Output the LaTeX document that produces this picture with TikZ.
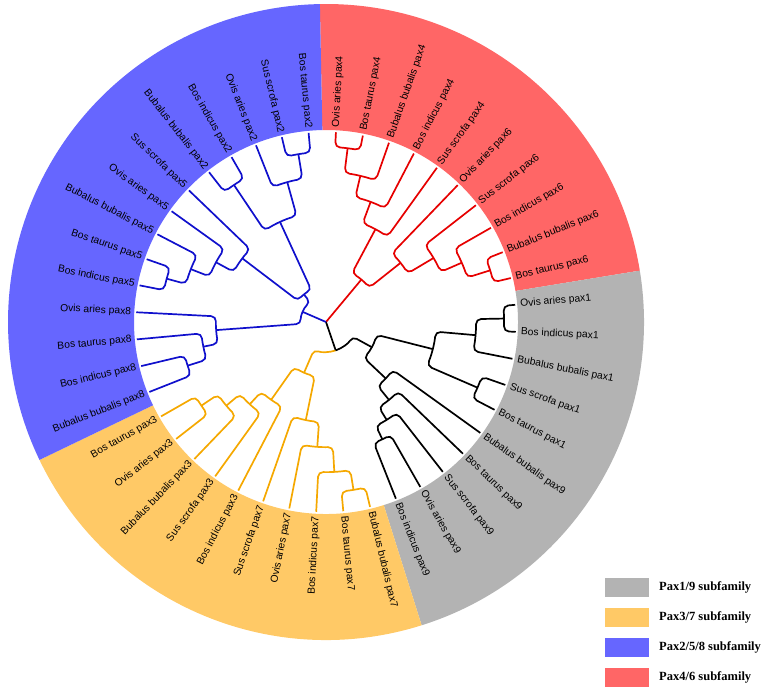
\documentclass[tikz,border=0pt]{standalone}
\usepackage{fontspec}
\setmainfont{Liberation Serif}
\newfontfamily\lblfont{Liberation Sans}
\definecolor{ringred}{HTML}{FF6666}
\definecolor{ringgray}{HTML}{B3B3B3}
\definecolor{ringyel}{HTML}{FFC966}
\definecolor{ringblue}{HTML}{6666FF}
\definecolor{trred}{HTML}{E60000}
\definecolor{trblue}{HTML}{1010CC}
\definecolor{tryel}{HTML}{F5A800}
\newcommand{\lf}[1]{\fpeval{87-8.18*(#1)}}
% \clade{color}{r}{a1}{r1}{a2}{r2}
\newcommand{\clade}[6]{\draw[#1,br] (#3:#4pt) -- (#3:#2pt) arc[start angle=#3,end angle=#5,radius=#2pt] -- (#5:#6pt);}
\newcommand{\sector}[3]{\fill[#1] (#2:192pt) arc[start angle=#2,end angle=#3,radius=192pt] -- (#3:318pt) arc[start angle=#3,end angle=#2,radius=318pt] -- cycle;}
\newcommand{\leaflabel}[2]{%
  \pgfmathsetmacro\aa{\lf{#1}}%
  \pgfmathparse{(\aa>-90)&&(\aa<90)?1:0}%
  \ifnum\pgfmathresult=1
    \node[lbl,anchor=west,rotate=\aa] (L#1) at (\aa:194pt) {#2};
  \else
    \node[lbl,anchor=east,rotate=\aa+180] (L#1) at (\aa:194pt) {#2};
  \fi}
\tikzset{br/.style={line width=1.7pt,rounded corners=5pt},
  lbl/.style={font=\lblfont\fontsize{10.3}{12}\selectfont,inner sep=1pt},
  legtxt/.style={font=\bfseries\fontsize{12.5}{14}\selectfont,anchor=west,inner sep=0pt}}
\begin{document}
\begin{tikzpicture}[x=1pt,y=1pt]
\useasboundingbox (0,0) rectangle (767,-691);
\begin{scope}[shift={(326,-322)}]
\sector{ringred}{91.1}{9.3}
\sector{ringgray}{9.3}{-72.5}
\sector{ringyel}{-72.5}{-154.3}
\sector{ringblue}{-154.3}{-268.9}
% ---------- red
\clade{trred}{175}{\lf{0}}{190}{\lf{1}}{190}
\clade{trred}{150}{82.91}{175}{\lf{2}}{190}
\clade{trred}{128}{76.78}{150}{\lf{3}}{190}
\clade{trred}{105}{69.62}{128}{\lf{4}}{190}
\clade{trred}{172}{\lf{8}}{190}{\lf{9}}{190}
\clade{trred}{148}{\lf{7}}{190}{17.47}{172}
\clade{trred}{125}{\lf{6}}{190}{23.6}{148}
\clade{trred}{95}{\lf{5}}{190}{30.76}{125}
\clade{trred}{55}{61.95}{105}{38.43}{95}
\draw[trred,line width=1.7pt] (0,0) -- (50.19:55pt);
% ---------- black
\clade{black}{178}{\lf{10}}{190}{\lf{11}}{190}
\clade{black}{150}{1.11}{178}{\lf{12}}{190}
\clade{black}{165}{\lf{13}}{190}{\lf{14}}{190}
\clade{black}{110}{-5.03}{150}{-23.43}{165}
\clade{black}{130}{\lf{18}}{190}{\lf{19}}{190}
\clade{black}{115}{\lf{17}}{190}{-64.33}{130}
\clade{black}{100}{\lf{16}}{190}{-58.2}{115}
\clade{black}{82}{\lf{15}}{190}{-51.04}{100}
\clade{black}{52}{-14.23}{110}{-43.37}{82}
% ---------- yellow
\clade{tryel}{170}{\lf{20}}{190}{\lf{21}}{190}
\clade{tryel}{150}{\lf{22}}{190}{-80.69}{170}
\clade{tryel}{125}{\lf{23}}{190}{-86.83}{150}
\clade{tryel}{100}{\lf{24}}{190}{-93.99}{125}
\clade{tryel}{150}{\lf{28}}{190}{\lf{29}}{190}
\clade{tryel}{130}{\lf{27}}{190}{-146.13}{150}
\clade{tryel}{112}{\lf{26}}{190}{-140}{130}
\clade{tryel}{95}{\lf{25}}{190}{-132.84}{112}
\clade{tryel}{55}{-101.65}{100}{-125.17}{95}
\draw[black,br] (-28.8:52pt) -- (-28.8:30pt) arc[start angle=-28.8,end angle=-71.1,radius=30pt];
\draw[tryel,br] (-71.1:30pt) arc[start angle=-71.1,end angle=-113.4,radius=30pt] -- (-113.4:55pt);
\draw[black,line width=1.7pt] (0,0) -- (-71.1:30pt);
% ---------- blue
\clade{trblue}{170}{\lf{42}}{190}{\lf{43}}{190}
\clade{trblue}{145}{\lf{41}}{190}{-260.65}{170}
\clade{trblue}{165}{\lf{39}}{190}{\lf{40}}{190}
\clade{trblue}{110}{-236.11}{165}{-254.52}{145}
\clade{trblue}{165}{\lf{34}}{190}{\lf{35}}{190}
\clade{trblue}{145}{-195.21}{165}{\lf{36}}{190}
\clade{trblue}{125}{-201.35}{145}{\lf{37}}{190}
\clade{trblue}{105}{-208.5}{125}{\lf{38}}{190}
\clade{trblue}{35}{-217.26}{105}{-245.31}{110}
\clade{trblue}{145}{\lf{30}}{190}{\lf{31}}{190}
\clade{trblue}{125}{-162.49}{145}{\lf{32}}{190}
\clade{trblue}{110}{-168.63}{125}{\lf{33}}{190}
\clade{trblue}{25}{-175.78}{110}{-231.29}{35}
\draw[trblue,line width=1.7pt] (0,0) -- (-203.5:25pt);
% ---------- labels
\leaflabel{0}{Ovis aries pax4}
\leaflabel{1}{Bos taurus pax4}
\leaflabel{2}{Bubalus bubalis pax4}
\leaflabel{3}{Bos indicus pax4}
\leaflabel{4}{Sus scrofa pax4}
\leaflabel{5}{Ovis aries pax6}
\leaflabel{6}{Sus scrofa pax6}
\leaflabel{7}{Bos indicus pax6}
\leaflabel{8}{Bubalus bubalis pax6}
\leaflabel{9}{Bos taurus pax6}
\leaflabel{10}{Ovis aries pax1}
\leaflabel{11}{Bos indicus pax1}
\leaflabel{12}{Bubalus bubalis pax1}
\leaflabel{13}{Sus scrofa pax1}
\leaflabel{14}{Bos taurus pax1}
\leaflabel{15}{Bubalus bubalis pax9}
\leaflabel{16}{Bos taurus pax9}
\leaflabel{17}{Sus scrofa pax9}
\leaflabel{18}{Ovis aries pax9}
\leaflabel{19}{Bos indicus pax9}
\leaflabel{20}{Bubalus bubalis pax7}
\leaflabel{21}{Bos taurus pax7}
\leaflabel{22}{Bos indicus pax7}
\leaflabel{23}{Ovis aries pax7}
\leaflabel{24}{Sus scrofa pax7}
\leaflabel{25}{Bos indicus pax3}
\leaflabel{26}{Sus scrofa pax3}
\leaflabel{27}{Bubalus bubalis pax3}
\leaflabel{28}{Ovis aries pax3}
\leaflabel{29}{Bos taurus pax3}
\leaflabel{30}{Bubalus bubalis pax8}
\leaflabel{31}{Bos indicus pax8}
\leaflabel{32}{Bos taurus pax8}
\leaflabel{33}{Ovis aries pax8}
\leaflabel{34}{Bos indicus pax5}
\leaflabel{35}{Bos taurus pax5}
\leaflabel{36}{Bubalus bubalis pax5}
\leaflabel{37}{Ovis aries pax5}
\leaflabel{38}{Sus scrofa pax5}
\leaflabel{39}{Bubalus bubalis pax2}
\leaflabel{40}{Bos indicus pax2}
\leaflabel{41}{Ovis aries pax2}
\leaflabel{42}{Sus scrofa pax2}
\leaflabel{43}{Bos taurus pax2}
\end{scope}
% ---------- legend
\fill[ringgray] (605,-578) rectangle (649,-597);
\node[legtxt] (g1) at (659,-587.5) {Pax1/9 subfamily};
\fill[ringyel] (605,-608) rectangle (649,-627);
\node[legtxt] (g2) at (659,-617.5) {Pax3/7 subfamily};
\fill[ringblue] (605,-638) rectangle (649,-657);
\node[legtxt] (g3) at (659,-647.5) {Pax2/5/8 subfamily};
\fill[ringred] (605,-668) rectangle (649,-687);
\node[legtxt] (g4) at (659,-677.5) {Pax4/6 subfamily};
\end{tikzpicture}
\end{document}
